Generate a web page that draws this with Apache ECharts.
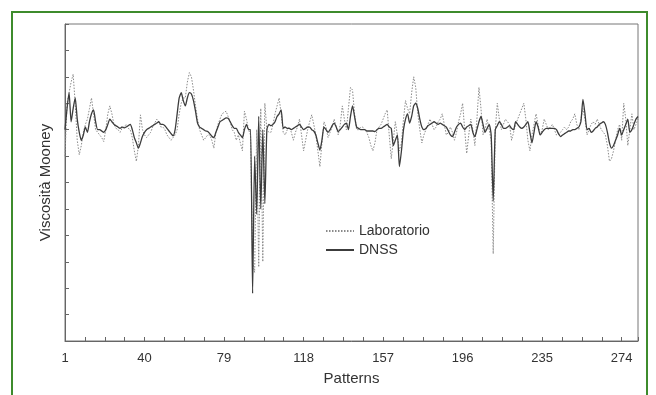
<!DOCTYPE html>
<html>
<head>
<meta charset="utf-8">
<script src="https://cdn.jsdelivr.net/npm/echarts@6/dist/echarts.min.js"></script>
<style>
html,body{margin:0;padding:0;background:#fff;}
#chart{width:656px;height:395px;}
</style>
</head>
<body>
<div id="chart"></div>
<script>
// Pattern index (x) tick labels
const xTickLabels = [1, 40, 79, 118, 157, 196, 235, 274];
const seriesNames = ['Laboratorio', 'DNSS'];

// DNSS network output, patterns 1..282
const dnss = [
80, 88, 94, 83, 88, 92, 84, 79, 76, 78,
81, 79, 83, 86, 87.5, 83, 80, 80, 79.5, 79,
80, 82, 84, 83, 82, 81.5, 81, 80.5, 81, 80.7,
81, 81.5, 82, 80, 77, 75, 73, 75, 77.5, 79,
80, 80.5, 81, 81.5, 82, 82.5, 83, 82, 82, 81.5,
80.5, 79.5, 78.5, 77.7, 80, 86, 92, 94, 91, 89,
92, 94, 93.5, 91, 87, 82.5, 81, 80.5, 80, 79.5,
79.3, 78.5, 77.5, 77, 79, 81, 83, 83.5, 84, 84.5,
84.3, 83, 81.5, 80.5, 80.5, 79, 78, 77, 80, 82,
80, 80, 18, 70, 48, 85, 50, 80, 52, 80,
82, 81.5, 82, 83, 85, 86, 87.5, 80.5, 81, 80.5,
80.5, 80, 80.5, 81, 81.5, 82, 81, 80, 80.5, 81,
81, 80, 79.5, 78, 75, 72.3, 76, 81, 80, 79,
80, 81.5, 82.5, 81, 79.3, 80, 81, 82, 82.5, 80,
85, 89, 85, 81, 80.5, 80, 80, 80, 79.5, 79.5,
79.5, 79.5, 79.3, 80, 80.5, 80.5, 81, 81.5, 82, 81,
80.5, 74, 76, 78, 66, 72, 80, 84, 86, 82.5,
85, 89, 90, 88, 84, 81, 80, 80.5, 81.5, 82,
82.5, 83, 82.5, 82, 82.5, 82, 81.5, 81, 79.5, 78,
77.4, 79, 81, 82, 82.5, 81, 80, 81, 81.5, 82,
79, 77.4, 80, 83, 85, 82, 79, 80.5, 82, 78,
53, 80, 81.5, 83, 82, 80.5, 80.5, 81, 81.5, 80.5,
80, 83, 82, 81, 80.5, 81, 82, 83, 79, 75,
79, 83, 81, 78, 79, 80, 80.5, 80.5, 80.5, 80.5,
80.5, 80, 78.5, 77.4, 78, 78.5, 79, 79.5, 79.5, 80,
80, 80.5, 81, 83, 91.5, 86, 80, 80.5, 79, 79.5,
80.5, 81, 82, 82.5, 83, 82, 79, 75, 73, 74,
76, 78, 80.5, 78, 80, 82, 84, 79, 80, 82,
84, 85
];

// Laboratory measurements, patterns 1..282
const laboratorio = [
70, 90, 94, 98, 101, 90, 76, 70.5, 74, 79,
82, 84, 88, 92, 86, 80, 79, 78, 77, 75.5,
80, 86, 89, 86, 82, 80.5, 80, 79, 80.5, 81,
82, 80.5, 80, 77, 72, 68, 74, 85.6, 80, 78,
77, 78, 79, 81, 82.5, 84, 83, 81, 81, 80,
78, 77, 76, 77, 78, 80, 86, 90, 92, 92,
98, 101.6, 100, 95, 89, 84, 80, 78, 76, 77,
78, 78, 76, 73, 79, 82, 84, 86, 86.5, 87,
85, 83, 80, 79, 76, 78, 75, 72, 87, 84,
80, 78, 30, 26, 80, 28, 88, 30, 90, 80,
79, 79, 82, 86, 89, 92, 86, 79, 78, 80,
81, 79, 76, 79, 81, 84, 78, 72, 76, 80,
83, 85.6, 82, 78, 72, 66, 75, 83, 81, 77,
79, 81, 84, 81, 78, 82, 89, 84, 80, 88,
96, 95, 86, 80, 80, 81, 81, 80, 79, 77,
74, 72, 75, 80, 81, 82, 84, 86, 87.5, 78,
69, 76, 83, 78, 72, 75, 84, 91, 88, 86,
94, 100, 96, 86, 80, 75, 78, 80, 82, 84,
82, 80, 81, 83, 84, 86, 82, 78, 79, 81,
79, 76, 79, 83, 86, 90, 80, 71, 78, 84,
80, 74, 84, 96, 88, 78, 80, 84, 80, 76,
33, 80, 90, 84, 80, 82, 84, 83, 82, 76,
79, 82, 84, 86, 88, 90, 84, 76, 72, 78,
82, 86, 82, 78, 80, 84, 82, 80, 81, 82,
80, 78, 78, 79, 80, 81, 80, 81, 83, 84,
86, 82, 80, 84, 88, 84, 78, 80, 82, 83,
82, 84, 82, 80, 79, 78, 74, 68, 69, 72,
76, 80, 82, 76, 90, 84, 74, 80, 86, 80,
82, 84
];

const FONT = "'Liberation Sans', Arial, sans-serif";
const toPairs = arr => arr.map((v, i) => [i, v]); // x stored as pattern-1

const chart = echarts.init(document.getElementById('chart'), null, {renderer: 'canvas'});
chart.setOption({
  backgroundColor: '#ffffff',
  animation: false,
  textStyle: {fontFamily: FONT},
  graphic: [{
    type: 'rect',
    shape: {x: 12, y: 12, width: 635, height: 400},
    style: {fill: 'none', stroke: '#3d8b2c', lineWidth: 2},
    silent: true, z: 100
  }],
  grid: {
    left: 65, right: 18, top: 24, bottom: 54,
    show: true, borderColor: '#777', borderWidth: 1, backgroundColor: 'transparent'
  },
  legend: {
    orient: 'vertical',
    left: 325, top: 224, padding: 0,
    itemWidth: 28, itemHeight: 14, itemGap: 5,
    data: seriesNames,
    itemStyle: {color: 'rgba(0,0,0,0)', borderWidth: 0, opacity: 0},
    textStyle: {fontFamily: FONT, fontSize: 14, color: '#333'}
  },
  xAxis: {
    type: 'value',
    min: 0, max: 281, interval: 39,
    name: 'Patterns', nameLocation: 'middle', nameGap: 30,
    nameTextStyle: {fontFamily: FONT, fontSize: 15, color: '#333'},
    axisLine: {show: true, lineStyle: {color: '#666', width: 1}},
    axisTick: {show: true, inside: true, length: 4, lineStyle: {color: '#666'}},
    minorTick: {show: true, splitNumber: 4, length: 4, lineStyle: {color: '#666'}},
    splitLine: {show: false},
    axisLabel: {
      fontFamily: FONT, fontSize: 13, color: '#333', margin: 11,
      formatter: v => { const l = v + 1; return xTickLabels.indexOf(l) >= 0 ? String(l) : ''; }
    }
  },
  yAxis: {
    type: 'value',
    min: 0, max: 120, interval: 10,
    name: 'Viscosità Mooney', nameLocation: 'middle', nameGap: 12,
    nameTextStyle: {fontFamily: FONT, fontSize: 15, color: '#333'},
    axisLine: {show: true, lineStyle: {color: '#666', width: 1}},
    axisTick: {show: true, inside: true, length: 4, lineStyle: {color: '#666'}},
    axisLabel: {show: false},
    splitLine: {show: false}
  },
  series: [
    {
      name: seriesNames[0], type: 'line', data: toPairs(laboratorio),
      symbol: 'none', smooth: false,
      lineStyle: {color: '#8a8a8a', width: 1, type: [1.5, 1.5]},
      itemStyle: {color: '#8a8a8a'}, z: 2
    },
    {
      name: seriesNames[1], type: 'line', data: toPairs(dnss),
      symbol: 'none', smooth: 0.2,
      lineStyle: {color: '#3c3c3c', width: 1.3},
      itemStyle: {color: '#3c3c3c'}, z: 3
    }
  ]
});
</script>
</body>
</html>
